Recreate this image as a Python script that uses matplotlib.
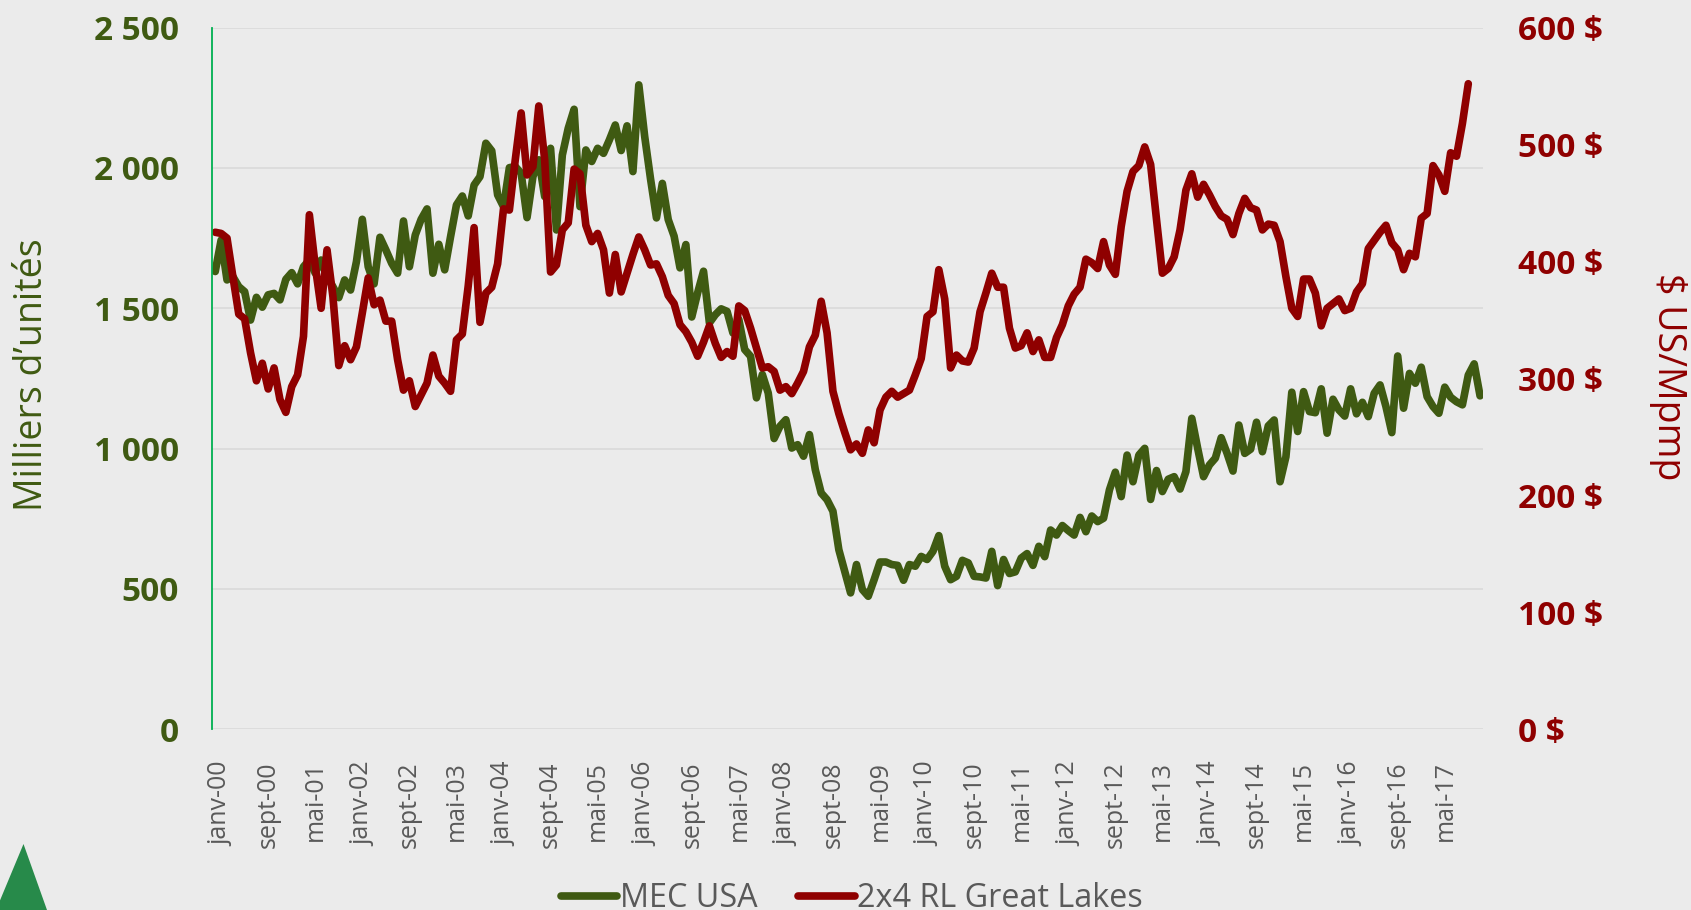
import matplotlib
matplotlib.use('Agg')
import matplotlib.pyplot as plt
from matplotlib.patches import Polygon
from matplotlib.transforms import ScaledTranslation

plt.rcParams['font.family'] = ['Open Sans', 'DejaVu Sans']

# monthly values, janv-00 onwards
mec_usa = [
    1631, 1743, 1601, 1613, 1577, 1559, 1458, 1539, 1504, 1548, 1553, 1530,
    1603, 1627, 1587, 1648, 1672, 1625, 1672, 1613, 1577, 1538, 1601, 1565,
    1666, 1817, 1648, 1587, 1753, 1708, 1660, 1625, 1811, 1648, 1761, 1817,
    1854, 1625, 1728, 1637, 1755, 1868, 1900, 1829, 1939, 1969, 2088, 2061,
    1904, 1862, 2001, 2005, 1981, 1823, 1969, 2029, 1898, 2070, 1779, 2046,
    2141, 2209, 1862, 2064, 2023, 2070, 2052, 2100, 2153, 2062, 2150, 1987,
    2296, 2112, 1960, 1822, 1945, 1816, 1757, 1644, 1727, 1469, 1555, 1632,
    1448, 1477, 1498, 1489, 1412, 1460, 1353, 1329, 1181, 1264, 1198, 1036,
    1080, 1103, 1002, 1014, 973, 1050, 925, 842, 818, 777, 640, 563,
    486, 587, 498, 474, 533, 596, 596, 587, 584, 531, 587, 581,
    616, 605, 634, 690, 581, 533, 545, 602, 593, 545, 543, 539,
    634, 512, 605, 555, 561, 610, 626, 584, 652, 615, 710, 692,
    726, 708, 692, 755, 704, 760, 740, 752, 853, 916, 829, 977,
    882, 977, 1001, 819, 922, 847, 891, 900, 856, 918, 1108, 1001,
    900, 942, 966, 1039, 983, 920, 1084, 983, 998, 1094, 989, 1081,
    1102, 882, 971, 1201, 1061, 1203, 1132, 1128, 1213, 1055, 1176, 1138,
    1116, 1213, 1124, 1165, 1114, 1197, 1227, 1150, 1057, 1330, 1144, 1268,
    1233, 1290, 1185, 1150, 1126, 1219, 1183, 1167, 1156, 1262, 1302, 1188,
]
rl_great_lakes = [
    425, 424, 420, 387, 355, 351, 322, 298, 313, 291, 309, 282,
    271, 293, 303, 336, 440, 396, 360, 410, 370, 311, 328, 316,
    327, 356, 386, 363, 367, 349, 349, 316, 290, 298, 276, 286,
    296, 320, 302, 296, 289, 333, 338, 379, 429, 348, 373, 378,
    398, 445, 444, 487, 527, 474, 481, 533, 487, 391, 397, 427,
    433, 479, 475, 431, 417, 424, 410, 373, 406, 374, 390, 406,
    421, 410, 397, 398, 387, 371, 364, 346, 340, 331, 319, 331,
    345, 330, 318, 323, 319, 362, 358, 343, 326, 309, 310, 306,
    290, 293, 287, 296, 306, 327, 337, 366, 339, 289, 270, 254,
    239, 244, 236, 256, 245, 273, 284, 289, 284, 287, 290, 303,
    317, 353, 357, 393, 368, 309, 320, 315, 314, 326, 357, 373,
    390, 378, 378, 343, 326, 328, 339, 323, 333, 318, 318, 335,
    346, 362, 372, 378, 402, 399, 394, 417, 397, 389, 430, 460,
    477, 482, 498, 483, 436, 390, 394, 404, 427, 461, 475, 455,
    466, 457, 447, 439, 436, 423, 441, 454, 446, 444, 427, 432,
    431, 417, 387, 360, 353, 385, 385, 373, 345, 360, 364, 368,
    358, 360, 374, 381, 411, 418, 425, 431, 416, 410, 393, 407,
    404, 437, 441, 482, 474, 460, 493, 490, 518, 552,
]
tick_labels = [
    'janv-00', 'sept-00', 'mai-01', 'janv-02', 'sept-02', 'mai-03', 'janv-04',
    'sept-04', 'mai-05', 'janv-06', 'sept-06', 'mai-07', 'janv-08', 'sept-08',
    'mai-09', 'janv-10', 'sept-10', 'mai-11', 'janv-12', 'sept-12', 'mai-13',
    'janv-14', 'sept-14', 'mai-15', 'janv-16', 'sept-16', 'mai-17',
]
left_ticks = [0, 500, 1000, 1500, 2000, 2500]
left_labels = ['0', '500', '1 000', '1 500', '2 000', '2 500']
right_ticks = [0, 100, 200, 300, 400, 500, 600]
right_labels = ['0 $', '100 $', '200 $', '300 $', '400 $', '500 $', '600 $']

GREEN = '#3F5A12'
RED = '#8F0000'
BG = '#EBEBEB'
GREY = '#595959'
W, H = 1691, 910

fig = plt.figure(figsize=(W/100, H/100), dpi=100, facecolor=BG)
ax = fig.add_axes([212.3/W, 1-729.3/H, (1483-212.3)/W, (729.3-27.6)/H], facecolor=BG)
ax2 = ax.twinx()

# category axis: points sit in the middle of each month slot
x_green = [i+0.5 for i in range(len(mec_usa))]
x_red = [i+0.5 for i in range(len(rl_great_lakes))]
l1, = ax.plot(x_green, mec_usa, color=GREEN, lw=5.5, solid_joinstyle='round', solid_capstyle='round', label='MEC USA')
l2, = ax2.plot(x_red, rl_great_lakes, color=RED, lw=5.5, solid_joinstyle='round', solid_capstyle='round', label='2x4 RL Great Lakes')

ax.set_xlim(0, 216)
ax.set_ylim(0, 2500)
ax2.set_ylim(0, 600)
ax.set_yticks(left_ticks)
ax.set_yticklabels(left_labels, fontsize=24, fontweight='bold', color=GREEN)
ax2.set_yticks(right_ticks)
ax2.set_yticklabels(right_labels, fontsize=24, fontweight='bold', color=RED)
ax.set_xticks([i*8+0.5 for i in range(len(tick_labels))])
ax.set_xticklabels(tick_labels, rotation=90, fontsize=18, color=GREY)
ax.tick_params(axis='x', length=0, pad=23)
ax.tick_params(axis='y', length=0, pad=24)
ax2.tick_params(axis='y', length=0, pad=25)
ax.grid(axis='y', color='#DCDCDC', lw=1.4)
ax.set_axisbelow(True)

# x labels sit a little right of their slot in the original
shift = ScaledTranslation(6/100, 0, fig.dpi_scale_trans)
for lab in ax.get_xticklabels():
    lab.set_transform(lab.get_transform() + shift)

for a in (ax, ax2):
    for s in ('top', 'right', 'bottom', 'left'):
        a.spines[s].set_visible(False)
ax2.spines['left'].set_visible(True)
ax2.spines['left'].set_color('#00B050')
ax2.spines['left'].set_linewidth(1.3)

fig.text(32/W, 1-375/H, "Milliers d’unités", rotation=90, ha='center', va='center', fontsize=27, color=GREEN)
fig.text(1668/W, 1-377/H, '$ US/Mpmp', rotation=270, ha='center', va='center', fontsize=27, color=RED)

leg = fig.legend(handles=[l1, l2], loc='lower center', bbox_to_anchor=(852/W, -0.038), ncol=2,
                 frameon=False, fontsize=23.3, handlelength=1.75, handletextpad=0.08, columnspacing=1.25, labelcolor=GREY)

# logo corner
fig.add_artist(Polygon([(-4/W, 0), (23.5/W, 1-844/H), (47/W, 0)], closed=True, transform=fig.transFigure, facecolor='#278A4A', edgecolor='none'))

fig.savefig('out.png', dpi=100, facecolor=BG)
